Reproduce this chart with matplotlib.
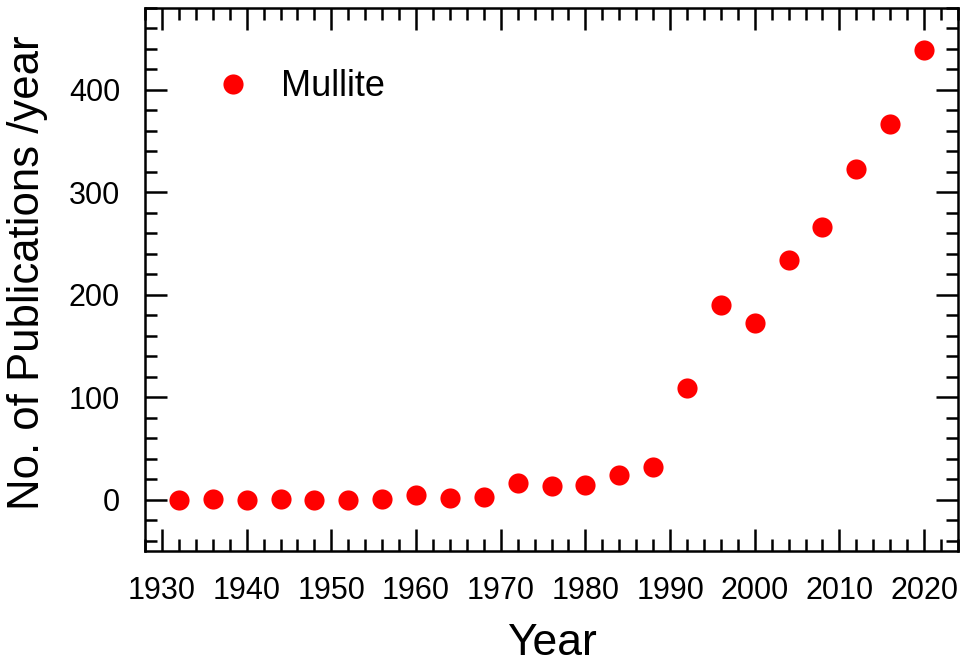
import matplotlib
matplotlib.use("Agg")
import matplotlib.pyplot as plt
from matplotlib.ticker import MultipleLocator

plt.rcParams['font.family'] = ['Liberation Sans', 'DejaVu Sans']

# publications per year, sampled every 4 years
years = [1932, 1936, 1940, 1944, 1948, 1952, 1956, 1960, 1964, 1968, 1972, 1976,
         1980, 1984, 1988, 1992, 1996, 2000, 2004, 2008, 2012, 2016, 2020]
pubs = [0, 1, 0, 1, 0, 0, 1, 5, 2, 3, 16, 13,
        14, 24, 32, 109, 190, 173, 234, 266, 323, 367, 439]

fig = plt.figure(figsize=(9.63, 6.63), dpi=100)
ax = fig.add_axes([0.1506, 0.1689, 0.8442, 0.8191])

ax.plot(years, pubs, 'o', color='#ff0000', markersize=14.5, markeredgewidth=0,
        label='Mullite')

ax.set_xlim(1928, 2024)
ax.set_ylim(-50, 480)
ax.xaxis.set_major_locator(MultipleLocator(10))
ax.xaxis.set_minor_locator(MultipleLocator(2))
ax.yaxis.set_major_locator(MultipleLocator(100))
ax.yaxis.set_minor_locator(MultipleLocator(20))

ax.tick_params(which='both', direction='in', top=True, right=True,
               width=1.8, labelsize=22, pad=18)
ax.tick_params(which='major', length=16)
ax.tick_params(which='minor', length=8.5)
for s in ax.spines.values():
    s.set_linewidth(1.8)

ax.set_xlabel('Year', fontsize=32, labelpad=12)
ax.set_ylabel('No. of Publications /year', fontsize=31.5)
ax.yaxis.set_label_coords(-0.119, 0.513)

ax.legend(loc='center left', bbox_to_anchor=(0.086, 0.855), frameon=False,
          fontsize=26, borderpad=0, borderaxespad=0, handlelength=1.0,
          handletextpad=0.83, numpoints=1)

fig.savefig('out.png', dpi=100)
